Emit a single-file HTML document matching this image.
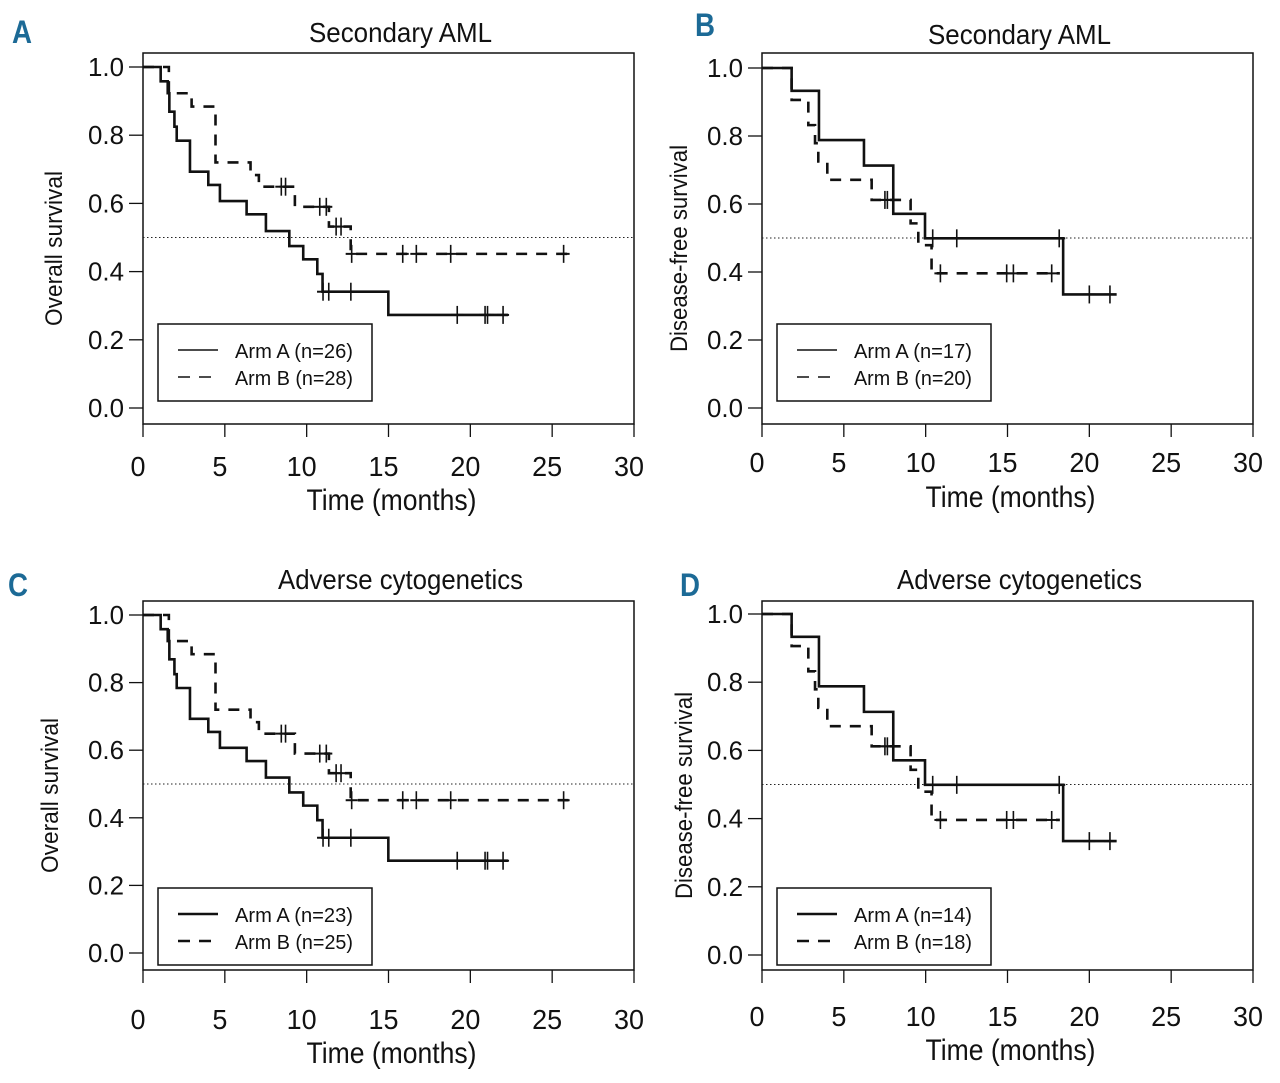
<!DOCTYPE html>
<html><head><meta charset="utf-8"><style>
html,body{margin:0;padding:0;background:#fff;}
svg text{font-family:"Liberation Sans Narrow","Liberation Sans",sans-serif;fill:#111;}
</style></head><body>
<svg id="fig" width="1280" height="1078" viewBox="0 0 1280 1078" xmlns="http://www.w3.org/2000/svg"></svg>
<script>
// ---- data (months, survival) ----
const osArmATimes = [1.08, 1.51, 1.61, 1.92, 2.06, 2.87, 3.99, 4.70, 6.33, 7.51, 8.94, 9.79, 10.65, 10.97, 11.26, 14.99];
const osArmAVals  = [0.958, 0.923, 0.869, 0.825, 0.784, 0.693, 0.654, 0.607, 0.568, 0.519, 0.475, 0.436, 0.393, 0.341, 0.341, 0.273];
const osArmAEnd = 22.3;
const osArmACens = [11.0, 11.35, 12.7, 19.2, 20.9, 21.05, 22.0];
const osArmBTimes = [1.58, 2.97, 4.43, 6.57, 7.08, 9.28, 11.36, 12.69];
const osArmBVals  = [0.923, 0.884, 0.72, 0.683, 0.649, 0.59, 0.532, 0.452];
const osArmBEnd = 26.0;
const osArmBCens = [8.45, 8.71, 10.8, 11.2, 11.8, 12.1, 12.75, 15.87, 16.7, 18.8, 25.7];

const dfsArmATimes = [1.81, 3.48, 6.23, 8.02, 9.96, 18.4];
const dfsArmAVals  = [0.933, 0.788, 0.713, 0.571, 0.499, 0.334];
const dfsArmAEnd = 21.67;
const dfsArmACens = [10.43, 11.9, 18.16, 20.0, 21.26];
const dfsArmBTimes = [1.81, 2.83, 3.24, 3.44, 3.99, 6.70, 9.08, 9.55, 10.36];
const dfsArmBVals  = [0.906, 0.832, 0.779, 0.725, 0.671, 0.612, 0.543, 0.479, 0.396];
const dfsArmBEnd = 18.2;
const dfsArmBCens = [7.51, 7.66, 8.0, 10.9, 14.95, 15.36, 17.7];

const xTicks = [0, 5, 10, 15, 20, 25, 30];
const yTicks = [0, 0.2, 0.4, 0.6, 0.8, 1.0];
const yTickLabels = ["0.0", "0.2", "0.4", "0.6", "0.8", "1.0"];

const NS = "http://www.w3.org/2000/svg";
const svg = document.getElementById("fig");
function mk(tag, attrs, parent, txt){
  const e = document.createElementNS(NS, tag);
  for (const k in attrs) e.setAttribute(k, attrs[k]);
  if (txt !== undefined) e.textContent = txt;
  (parent || svg).appendChild(e);
  return e;
}
function survAt(times, vals, t){
  let s = 1;
  for (let i = 0; i < times.length; i++) if (times[i] <= t) s = vals[i];
  return s;
}

const panels = [
  {letter:"A", letX:12, letY:43, title:"Secondary AML", ylab:"Overall survival", L:143, R:634, T:53, B:424, y1:67, y0:408, xlabY:476, xtitY:510, ttlY:42,
   a:[osArmATimes, osArmAVals, osArmAEnd, osArmACens], b:[osArmBTimes, osArmBVals, osArmBEnd, osArmBCens],
   nA:"Arm A (n=26)", nB:"Arm B (n=28)", legY:324, ylabX:62, lw:1.5},
  {letter:"B", letX:695, letY:36, title:"Secondary AML", ylab:"Disease-free survival", L:762, R:1253, T:53, B:424, y1:68, y0:408, xlabY:472, xtitY:507, ttlY:44,
   a:[dfsArmATimes, dfsArmAVals, dfsArmAEnd, dfsArmACens], b:[dfsArmBTimes, dfsArmBVals, dfsArmBEnd, dfsArmBCens],
   nA:"Arm A (n=17)", nB:"Arm B (n=20)", legY:324, ylabX:687, lw:1.5},
  {letter:"C", letX:8, letY:596, title:"Adverse cytogenetics", ylab:"Overall survival", L:143, R:634, T:601, B:970, y1:615, y0:953, xlabY:1029, xtitY:1063, ttlY:589,
   a:[osArmATimes, osArmAVals, osArmAEnd, osArmACens], b:[osArmBTimes, osArmBVals, osArmBEnd, osArmBCens],
   nA:"Arm A (n=23)", nB:"Arm B (n=25)", legY:888, ylabX:58, lw:2.5},
  {letter:"D", letX:680, letY:596, title:"Adverse cytogenetics", ylab:"Disease-free survival", L:762, R:1253, T:601, B:970, y1:614, y0:955, xlabY:1026, xtitY:1060, ttlY:589,
   a:[dfsArmATimes, dfsArmAVals, dfsArmAEnd, dfsArmACens], b:[dfsArmBTimes, dfsArmBVals, dfsArmBEnd, dfsArmBCens],
   nA:"Arm A (n=14)", nB:"Arm B (n=18)", legY:888, ylabX:692, lw:2.5}
];

panels.forEach(p => {
  const g = mk("g", {});
  
  
  const xS = t => p.L + (t / 30) * (p.R - p.L);
  const yS = v => p.y0 - v * (p.y0 - p.y1);

  const lt = mk("text", {x: p.letX, y: p.letY, "font-size": 32, "font-weight": "bold", fill: "#1c6a96", style: "fill:#1c6a96", textLength: 20, lengthAdjust: "spacingAndGlyphs"}, g, p.letter);
  
  
  const cx = (p.L + p.R) / 2 + 12;
  const tt = mk("text", {x: cx, y: p.ttlY, "font-size": 28, "text-anchor": "middle", textLength: p.title.length > 14 ? 245 : 183, lengthAdjust: "spacingAndGlyphs"}, g, p.title);
  
  

  const box = mk("rect", {x: p.L, y: p.T, width: p.R - p.L, height: p.B - p.T, fill: "none", stroke: "#111", "stroke-width": 1.5}, g);
  
  

  yTicks.forEach((v, i) => {
    const y = yS(v);
    const tk = mk("line", {x1: p.L - 14, x2: p.L, y1: y, y2: y, stroke: "#111", "stroke-width": 1.3}, g);
    
    
    const tl = mk("text", {x: p.L - 19, y: y + 9, "font-size": 26, "text-anchor": "end", textLength: 36, lengthAdjust: "spacingAndGlyphs"}, g, yTickLabels[i]);
    
    
  });
  xTicks.forEach(t => {
    const x = xS(t);
    const tk = mk("line", {x1: x, x2: x, y1: p.B, y2: p.B + 13, stroke: "#111", "stroke-width": 1.3}, g);
    
    
    const s = String(t);
    const tl = mk("text", {x: x - 5, y: p.xlabY, "font-size": 28, "text-anchor": "middle", textLength: s.length * 15, lengthAdjust: "spacingAndGlyphs"}, g, s);
    
    
  });
  const xt = mk("text", {x: (p.L + p.R) / 2 + 3, y: p.xtitY, "font-size": 30, "text-anchor": "middle", textLength: 170, lengthAdjust: "spacingAndGlyphs"}, g, "Time (months)");
  
  
  const ylen = p.ylab.length > 17 ? 207 : 155;
  const yt = mk("text", {x: 0, y: 0, "font-size": 24, "text-anchor": "middle", transform: `translate(${p.ylabX},${(p.T + p.B) / 2 + 10}) rotate(-90)`, textLength: ylen, lengthAdjust: "spacingAndGlyphs"}, g, p.ylab);
  
  

  const ref = mk("line", {x1: p.L, x2: p.R, y1: yS(0.5), y2: yS(0.5), stroke: "#222", "stroke-width": 1, "stroke-dasharray": "1.5,2.5"}, g);
  
  

  function drawCurve(arr, dashed, name){
    const [times, vals, end, cens] = arr;
    let d = `M${xS(0)},${yS(1)}`;
    let prev = 1;
    times.forEach((t, i) => {
      d += ` L${xS(t)},${yS(prev)} L${xS(t)},${yS(vals[i])}`;
      prev = vals[i];
    });
    d += ` L${xS(end)},${yS(prev)}`;
    const path = mk("path", {d: d, fill: "none", stroke: "#111", "stroke-width": 2.6, "stroke-dasharray": dashed ? "11,9" : "none"}, g);
    
    
    cens.forEach(t => {
      const v = survAt(times, vals, t);
      const c = mk("line", {x1: xS(t), x2: xS(t), y1: yS(v) - 9, y2: yS(v) + 9, stroke: "#111", "stroke-width": 1.6}, g);
      
      
      const h = mk("line", {x1: xS(t) - 6, x2: xS(t) + 6, y1: yS(v), y2: yS(v), stroke: "#111", "stroke-width": 2}, g);
      
      
    });
  }
  drawCurve(p.a, false, 'arm-a');
  drawCurve(p.b, true, 'arm-b');

  const lg = mk("g", {}, g);
  
  
  const lx = p.L + 15;
  const lr = mk("rect", {x: lx, y: p.legY, width: 214, height: 77, fill: "#fff", stroke: "#111", "stroke-width": 1.5}, lg);
  
  
  const l1 = mk("line", {x1: lx + 20, x2: lx + 60, y1: p.legY + 26, y2: p.legY + 26, stroke: "#111", "stroke-width": p.lw}, lg);
  
  
  const l2 = mk("line", {x1: lx + 20, x2: lx + 60, y1: p.legY + 53, y2: p.legY + 53, stroke: "#111", "stroke-width": p.lw, "stroke-dasharray": "12,9"}, lg);
  
  
  const t1 = mk("text", {x: lx + 77, y: p.legY + 34, "font-size": 20, textLength: 118, lengthAdjust: "spacingAndGlyphs"}, lg, p.nA);
  
  
  const t2 = mk("text", {x: lx + 77, y: p.legY + 61, "font-size": 20, textLength: 118, lengthAdjust: "spacingAndGlyphs"}, lg, p.nB);
  
  
});
</script>
</body></html>
